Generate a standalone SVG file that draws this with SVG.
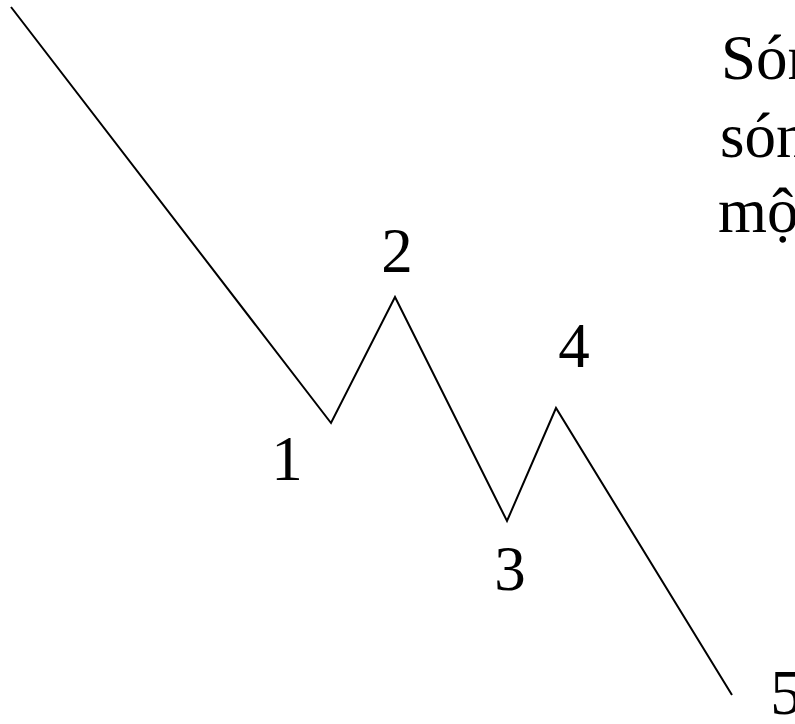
<svg xmlns="http://www.w3.org/2000/svg" width="795" height="724" viewBox="0 0 795 724">
<style>
.t{font-family:"Liberation Serif","Times New Roman",serif;font-size:63px;fill:#000}
.w{fill:none;stroke:#000;stroke-width:2;stroke-linejoin:miter}
</style>
<rect width="795" height="724" fill="#fff"/>
<g id="connectors">
<polyline class="w" points="11,7 331,423 395,297 507,521 556,408 732,695"/>
</g>
<g id="label1"><text class="t" x="287" y="480" text-anchor="middle">1</text></g>
<g id="label2"><text class="t" x="397" y="272" text-anchor="middle">2</text></g>
<g id="label3"><text class="t" x="510" y="590" text-anchor="middle">3</text></g>
<g id="label4"><text class="t" x="574" y="367" text-anchor="middle">4</text></g>
<g id="label5"><text class="t" x="786" y="714" text-anchor="middle">5</text></g>
<g id="caption">
<text class="t" x="721" y="79">Sóng</text>
<text class="t" x="720" y="157">sóng</text>
<text class="t" x="718" y="232">một</text>
</g>
</svg>
